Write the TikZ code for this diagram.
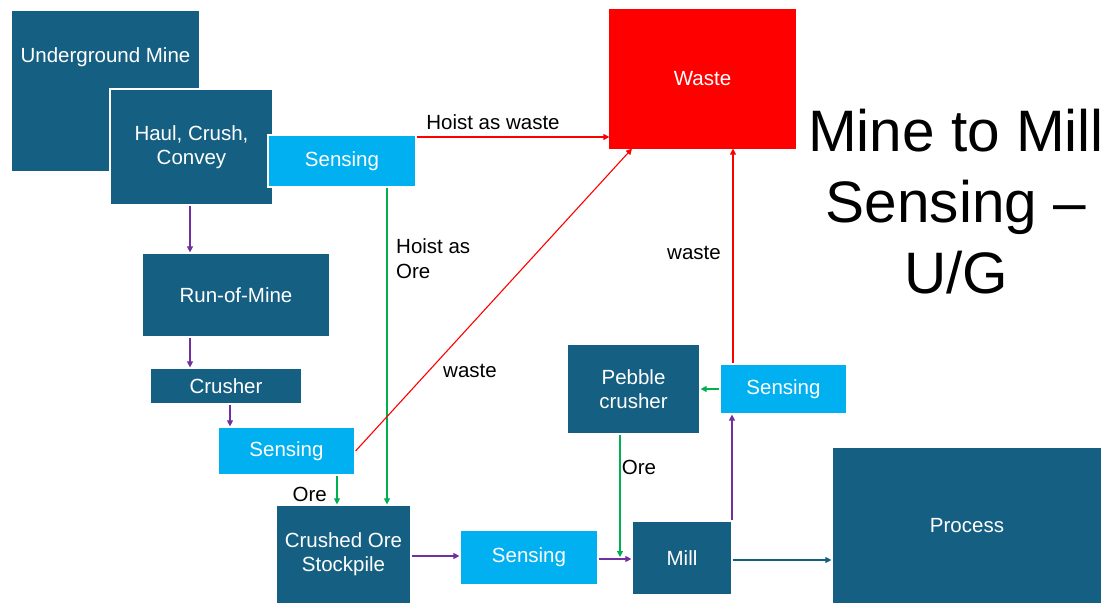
\documentclass[tikz,border=0pt]{standalone}
\usepackage{fontspec}
\setmainfont{Liberation Sans}
\usetikzlibrary{arrows.meta}
\definecolor{deep}{RGB}{21,96,130}
\definecolor{sky}{RGB}{0,176,240}
\definecolor{flowpurple}{RGB}{112,48,160}
\definecolor{flowgreen}{RGB}{0,176,80}
\definecolor{flowred}{RGB}{255,0,0}
\begin{document}
\begin{tikzpicture}[x=1pt,y=-1pt,
  box/.style={draw=white, line width=1.2pt, text=white,
    font=\fontsize{20.5}{24}\selectfont, align=center, inner sep=0pt},
  deepbox/.style={box, fill=deep},
  sensebox/.style={box, fill=sky},
  flow/.style={line width=1.1pt, -{Triangle[length=6pt,width=6pt]}},
  lbl/.style={font=\fontsize{20.5}{25}\selectfont, text=black, inner sep=0pt},
  headline/.style={font=\fontsize{58.5}{70}\selectfont, text=black, inner sep=0pt, anchor=base},
]
\useasboundingbox (0,0) rectangle (1112,604);

% stacked boxes, top left
\node[deepbox, minimum width=189, minimum height=162] (umine) at (105.5,91) {};
\node[box, draw=none] (uminetext) at (105.5,57) {Underground Mine};
\node[deepbox, minimum width=163, minimum height=116] (haul) at (191.5,147) {Haul, Crush,\\Convey};
\node[sensebox, minimum width=148, minimum height=52] (senseA) at (342,161) {Sensing};

% waste
\node[box, fill=flowred, draw=flowred, minimum width=185, minimum height=138] (waste) at (702.5,79) {Waste};

% title
\node[headline] (t1) at (956,152) {Mine to Mill};
\node[headline] (t2) at (956,223) {Sensing –};
\node[headline] (t3) at (956,294) {U/G};

% main process chain
\node[deepbox, minimum width=188, minimum height=84] (rom) at (236,295) {Run-of-Mine};
\node[deepbox, minimum width=152, minimum height=36] (crusher) at (226,386) {Crusher};
\node[sensebox, minimum width=137, minimum height=48] (senseB) at (286.5,451) {Sensing};
\node[deepbox, minimum width=135, minimum height=99] (stock) at (343.5,554.5) {Crushed Ore\\Stockpile};
\node[sensebox, minimum width=138, minimum height=55] (senseC) at (529,557.5) {Sensing};
\node[deepbox, minimum width=100, minimum height=74] (mill) at (682,558) {Mill};
\node[deepbox, minimum width=270, minimum height=157] (process) at (967,525.5) {Process};
\node[deepbox, minimum width=133, minimum height=90] (pebble) at (633.5,389) {Pebble\\crusher};
\node[sensebox, minimum width=127, minimum height=50] (senseD) at (783.5,389) {Sensing};

% connectors
\draw[flow, flowpurple] (190,0 |- haul.south) -- (190,0 |- rom.north);
\draw[flow, flowpurple] (190,0 |- rom.south) -- (190,0 |- crusher.north);
\draw[flow, flowpurple] (230,0 |- crusher.south) -- (230,0 |- senseB.north);

\draw[flow, flowgreen] (337,0 |- senseB.south) -- (337,0 |- stock.north);
\node[lbl, anchor=east] (oreA) at (327,494) {Ore};

\draw[flow, flowgreen] (387,0 |- senseA.south) -- (387,0 |- stock.north);
\node[lbl, anchor=west, align=left] (hoistore) at (396,259) {Hoist as\\Ore};

\draw[flow, flowred] (senseA.east |- 0,137) -- (waste.west |- 0,137);
\node[lbl] (hoistwaste) at (493,122) {Hoist as waste};

\draw[flow, flowred] (senseB.east) -- (632,0 |- waste.south);
\node[lbl] (wasteA) at (470,371) {waste};

\draw[flow, flowpurple] (stock.east |- 0,556) -- (senseC.west |- 0,556);
\draw[flow, flowpurple] (senseC.east |- 0,559) -- (mill.west |- 0,559);

\coordinate (oremerge) at (620,557);
\draw[flow, flowgreen] (620,0 |- pebble.south) -- (oremerge);
\node[lbl] (oreB) at (639,467) {Ore};

\draw[flow, flowpurple] (732,0 |- mill.north) -- (732,0 |- senseD.south);
\draw[flow, flowgreen] (senseD.west) -- (pebble.east);
\draw[flow, flowred] (733,0 |- senseD.north) -- (733,0 |- waste.south);
\node[lbl] (wasteB) at (694,253) {waste};

\draw[flow, deep] (mill.east |- 0,560) -- (process.west |- 0,560);
\end{tikzpicture}
\end{document}
